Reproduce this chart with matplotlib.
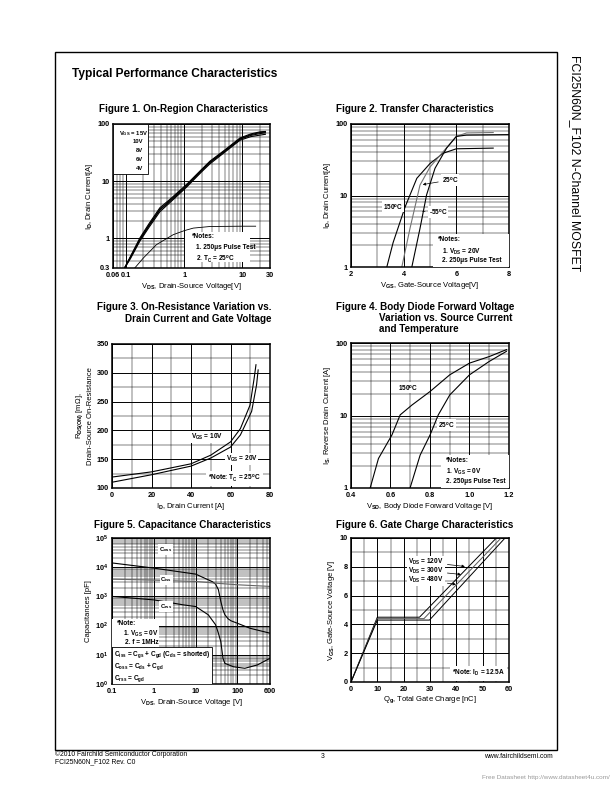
import matplotlib
matplotlib.use("Agg")
import matplotlib.pyplot as plt
from matplotlib.patches import Rectangle
from matplotlib.ticker import NullFormatter, MultipleLocator, LogLocator

plt.rcParams['font.family'] = ['Liberation Sans', 'DejaVu Sans']
plt.rcParams['font.weight'] = 'bold'
plt.rcParams['mathtext.fontset'] = 'custom'
plt.rcParams['mathtext.rm'] = 'Liberation Sans:bold'
plt.rcParams['mathtext.it'] = 'Liberation Sans:bold'
plt.rcParams['mathtext.bf'] = 'Liberation Sans:bold'

# ---- Figure 1: on-region characteristics ----
vds_on = [0.095, 0.12, 0.173, 0.25, 0.383, 0.6, 1.1, 2.0, 2.78, 5.0, 9.17, 14, 20.4, 25]
id_15v = [0.3, 0.48, 1.0, 1.8, 3.4, 5.0, 8.7, 16.0, 22.3, 35, 57, 67, 73, 74]
id_10v = [0.3, 0.47, 0.95, 1.7, 3.2, 4.8, 8.4, 15.5, 21.5, 34, 55, 65, 71, 72]
id_8v = [0.3, 0.46, 0.92, 1.65, 3.1, 4.6, 8.1, 15.0, 21.0, 33, 54, 63, 68, 70]
id_6v = [0.3, 0.44, 0.88, 1.55, 2.9, 4.4, 7.8, 14.5, 20.0, 32, 52, 60, 64, 66]
vds_4v = [0.142, 0.2, 0.335, 0.65, 1.0, 1.44, 2.78, 10, 17]
id_4v = [0.3, 0.45, 0.77, 1.15, 1.35, 1.5, 1.6, 1.62, 1.62]

# ---- Figure 2: transfer characteristics ----
vgs_150 = [3.36, 3.6, 4.06, 4.5, 5.0, 5.5, 6.0, 7.4]
id_150 = [1, 2.2, 7.0, 17.4, 28, 39, 45, 46]
vgs_25 = [3.93, 4.24, 4.62, 5.0, 5.5, 6.0, 6.39, 7.4]
id_25 = [1, 3.46, 14, 25, 41, 67, 75, 76]
vgs_m55 = [4.31, 4.62, 4.87, 5.19, 5.63, 6.0, 6.39, 8.0]
id_m55 = [1, 3.46, 10.2, 24, 46, 67, 70, 71]

# ---- Figure 3: on-resistance ----
id_r10 = [0, 20, 40, 50, 60, 65, 69.9, 72, 72.9]
rds_10v = [119, 128, 142, 157, 180, 203, 244, 291, 314]
id_r20 = [0, 20, 40, 50, 60, 65, 70.7, 73.2, 74]
rds_20v = [110, 123, 138, 152, 171, 192, 233, 279, 305]

# ---- Figure 4: body diode ----
vsd_150 = [0.497, 0.539, 0.607, 0.649, 0.708, 0.8, 0.9, 1.0, 1.1, 1.187]
is_150 = [1, 2.55, 5.37, 10.2, 13.9, 21.4, 36.4, 52.8, 65, 81]
vsd_25 = [0.699, 0.75, 0.8, 0.842, 0.9, 1.0, 1.1, 1.187]
is_25 = [1, 2.84, 5.37, 10.2, 19.2, 36.4, 55.7, 76.7]

# ---- Figure 5: capacitance ----
vds_coss = [0.1, 1, 10, 25, 30, 35, 40, 45, 50, 60, 70, 100, 200, 600]
c_oss = [14000, 9300, 5800, 3200, 2630, 1700, 670, 347, 235, 170, 146, 120, 81, 55]
vds_ciss = [0.1, 1, 10, 30, 100, 600]
c_iss = [3900, 3600, 3250, 2840, 2500, 2200]
vds_crss = [0.1, 1, 5, 10, 20, 30, 35, 40, 45, 50, 80, 150, 300, 600]
c_rss = [1000, 760, 515, 450, 235, 107, 55, 28, 7.6, 5.1, 3.9, 3.45, 4.5, 7.6]

# ---- Figure 6: gate charge ----
qg_120 = [0, 10, 26.0, 55.2]
vg_120 = [0, 4.5, 4.5, 10]
qg_300 = [0, 10, 27.7, 57.0]
vg_300 = [0, 4.4, 4.4, 10]
qg_480 = [0, 10, 29.8, 58.5]
vg_480 = [0, 4.3, 4.3, 10]

W, H = 612, 792
fig = plt.figure(figsize=(W / 100, H / 100), dpi=100)

TICK = 5.3
LAB = 5.5
NOTE = 4.7
TITLE = 7.1


def px_axes(l, r, t, b):
    return fig.add_axes([l / W, 1 - b / H, (r - l) / W, (b - t) / H])


def ftext(x, y, s, **kw):
    return fig.text(x / W, 1 - y / H, s, **kw)


def style(ax):
    for sp in ax.spines.values():
        sp.set_linewidth(1.1)
    ax.tick_params(which='both', length=0, labelsize=TICK)
    ax.tick_params(axis='x', pad=2.6)
    ax.tick_params(axis='y', pad=2.2)
    ax.grid(which='major', color='k', lw=0.7)
    ax.grid(which='minor', color='k', lw=0.35)
    ax.set_axisbelow(True)


def notes(ax, x0, lines, top, step, indent=0.03):
    for i, s in enumerate(lines):
        ax.text(x0 + (indent if i else 0), top - i * step, s, transform=ax.transAxes,
                fontsize=NOTE, va='top', zorder=6)


white = dict(facecolor='white', edgecolor='none', pad=0.6)

# Figure 1
ax1 = px_axes(113, 270, 124, 268)
ax1.set_xscale('log')
ax1.set_yscale('log')
ax1.set_xlim(0.06, 30)
ax1.set_ylim(0.3, 100)
ax1.set_xticks([0.06, 0.1, 1, 10, 30], ['0.06', '0.1', '1', '10', '30'])
ax1.set_yticks([0.3, 1, 10, 100], ['0.3', '1', '10', '100'])
ax1.xaxis.set_minor_locator(LogLocator(subs=range(2, 10)))
ax1.yaxis.set_minor_locator(LogLocator(subs=range(2, 10)))
ax1.xaxis.set_minor_formatter(NullFormatter())
ax1.yaxis.set_minor_formatter(NullFormatter())
style(ax1)
for ys in [id_15v, id_10v, id_8v, id_6v]:
    ax1.plot(vds_on, ys, color='k', lw=0.8)
ax1.plot(vds_4v, id_4v, color='k', lw=0.6)
ax1.add_patch(Rectangle((0, 0.65), 0.22, 0.35, transform=ax1.transAxes,
                        facecolor='white', edgecolor='k', lw=0.6, zorder=5))
ax1.text(0.04, 0.965, 'V$_{GS}$ = 15V', transform=ax1.transAxes, fontsize=4.2, va='top', zorder=6)
for i, s in enumerate(['10V', '8V', '6V', '4V']):
    ax1.text(0.19, 0.895 - i * 0.062, s, transform=ax1.transAxes, fontsize=4.2,
             va='top', ha='right', zorder=6)
ax1.add_patch(Rectangle((0.46, 0.04), 0.41, 0.21, transform=ax1.transAxes,
                        facecolor='white', edgecolor='none', zorder=5))
notes(ax1, 0.5, ['*Notes:', '1. 250μs Pulse Test', '2. T$_C$ = 25$^o$C'], 0.24, 0.07)
ax1.set_xlabel('V$_{DS}$, Drain-Source Voltage[V]', fontsize=LAB, labelpad=1.5)
ax1.set_ylabel('I$_D$, Drain Current[A]', fontsize=LAB, labelpad=2)

# Figure 2
ax2 = px_axes(351, 509, 124, 267)
ax2.set_yscale('log')
ax2.set_xlim(2, 8)
ax2.set_ylim(1, 100)
ax2.set_xticks([2, 4, 6, 8])
ax2.xaxis.set_minor_locator(MultipleLocator(1))
ax2.set_yticks([1, 10, 100], ['1', '10', '100'])
ax2.yaxis.set_minor_locator(LogLocator(subs=range(2, 10)))
ax2.yaxis.set_minor_formatter(NullFormatter())
style(ax2)
ax2.plot(vgs_150, id_150, color='k', lw=0.8)
ax2.plot(vgs_25, id_25, color='0.45', lw=0.8)
ax2.plot(vgs_m55, id_m55, color='k', lw=0.8)
ax2.annotate('25$^o$C', xy=(4.62, 14), xytext=(5.45, 16.5), fontsize=NOTE, va='center',
             bbox=white, arrowprops=dict(arrowstyle='-|>', lw=0.5, color='k', mutation_scale=4))
ax2.annotate('150$^o$C', xy=(4.05, 7.0), xytext=(3.2, 7.0), fontsize=NOTE, va='center',
             bbox=white, arrowprops=dict(arrowstyle='-', lw=0.5, color='k'))
ax2.annotate('-55$^o$C', xy=(4.72, 6.0), xytext=(4.95, 5.9), fontsize=NOTE, va='center',
             bbox=white, arrowprops=dict(arrowstyle='-', lw=0.5, color='k'))
ax2.add_patch(Rectangle((0.52, 0.0), 0.48, 0.23, transform=ax2.transAxes,
                        facecolor='white', edgecolor='none', zorder=5))
notes(ax2, 0.55, ['*Notes:', '1. V$_{DS}$ = 20V', '2. 250μs Pulse Test'], 0.215, 0.072, 0.025)
ax2.set_xlabel('V$_{GS}$, Gate-Source Voltage[V]', fontsize=LAB, labelpad=1.5)
ax2.set_ylabel('I$_D$, Drain Current[A]', fontsize=LAB, labelpad=2)

# Figure 3
ax3 = px_axes(112, 270, 344, 488)
ax3.set_xlim(0, 80)
ax3.set_ylim(100, 350)
ax3.set_xticks([0, 20, 40, 60, 80])
ax3.set_yticks([100, 150, 200, 250, 300, 350])
ax3.xaxis.set_minor_locator(MultipleLocator(10))
ax3.yaxis.set_minor_locator(MultipleLocator(25))
style(ax3)
ax3.plot(id_r10, rds_10v, color='k', lw=0.8)
ax3.plot(id_r20, rds_20v, color='k', lw=0.8)
ax3.text(48, 189, 'V$_{GS}$ = 10V', fontsize=NOTE, ha='center', va='center', bbox=white)
ax3.text(65.6, 150, 'V$_{GS}$ = 20V', fontsize=NOTE, ha='center', va='center', bbox=white)
ax3.text(48.5, 116, '*Note: T$_C$ = 25$^o$C', fontsize=NOTE, ha='left', va='center',
         bbox=dict(facecolor='white', edgecolor='none', pad=1.5))
ax3.set_xlabel('I$_D$, Drain Current [A]', fontsize=LAB, labelpad=1.5)
ax3.set_ylabel('R$_{DS(ON)}$ [mΩ],\nDrain-Source On-Resistance', fontsize=LAB, labelpad=2,
               linespacing=1.3)

# Figure 4
ax4 = px_axes(351, 509, 343, 488)
ax4.set_yscale('log')
ax4.set_xlim(0.4, 1.2)
ax4.set_ylim(1, 100)
ax4.set_xticks([0.4, 0.6, 0.8, 1.0, 1.2])
ax4.xaxis.set_minor_locator(MultipleLocator(0.1))
ax4.set_yticks([1, 10, 100], ['1', '10', '100'])
ax4.yaxis.set_minor_locator(LogLocator(subs=range(2, 10)))
ax4.yaxis.set_minor_formatter(NullFormatter())
style(ax4)
ax4.plot(vsd_150, is_150, color='k', lw=0.8)
ax4.plot(vsd_25, is_25, color='k', lw=0.8)
ax4.text(0.69, 24.3, '150$^o$C', fontsize=NOTE, ha='center', va='center', bbox=white)
ax4.text(0.884, 7.4, '25$^o$C', fontsize=NOTE, ha='center', va='center', bbox=white)
ax4.add_patch(Rectangle((0.57, 0.0), 0.43, 0.23, transform=ax4.transAxes,
                        facecolor='white', edgecolor='none', zorder=5))
notes(ax4, 0.6, ['*Notes:', '1. V$_{GS}$ = 0V', '2. 250μs Pulse Test'], 0.215, 0.072, 0.0)
ax4.set_xlabel('V$_{SD}$, Body Diode Forward Voltage [V]', fontsize=LAB, labelpad=1.5)
ax4.set_ylabel('I$_S$, Reverse Drain Current [A]', fontsize=LAB, labelpad=2)

# Figure 5
ax5 = px_axes(112, 270, 538, 684)
ax5.set_xscale('log')
ax5.set_yscale('log')
ax5.set_xlim(0.1, 600)
ax5.set_ylim(1, 1e5)
ax5.set_xticks([0.1, 1, 10, 100, 600], ['0.1', '1', '10', '100', '600'])
ax5.set_yticks([1, 10, 100, 1e3, 1e4, 1e5],
               ['10$^0$', '10$^1$', '10$^2$', '10$^3$', '10$^4$', '10$^5$'])
ax5.xaxis.set_minor_locator(LogLocator(subs=range(2, 10)))
ax5.yaxis.set_minor_locator(LogLocator(subs=range(2, 10)))
ax5.xaxis.set_minor_formatter(NullFormatter())
ax5.yaxis.set_minor_formatter(NullFormatter())
style(ax5)
ax5.tick_params(axis='y', pad=3)
ax5.tick_params(axis='x', pad=3)
ax5.plot(vds_coss, c_oss, color='k', lw=0.8)
ax5.plot(vds_ciss, c_iss, color='0.4', lw=0.8)
ax5.plot(vds_crss, c_rss, color='k', lw=0.8)
ax5.text(1.9, 4e4, 'C$_{oss}$', fontsize=4.2, ha='center', va='center', bbox=white)
ax5.text(2.0, 3700, 'C$_{iss}$', fontsize=4.2, ha='center', va='center', bbox=white)
ax5.text(2.0, 450, 'C$_{rss}$', fontsize=4.2, ha='center', va='center', bbox=white)
ax5.add_patch(Rectangle((0.0, 0.256), 0.3, 0.19, transform=ax5.transAxes,
                        facecolor='white', edgecolor='none', zorder=5))
ax5.text(0.03, 0.44, '*Note:', transform=ax5.transAxes, fontsize=NOTE, va='top', zorder=6)
ax5.text(0.07, 0.375, '1. V$_{GS}$ = 0V', transform=ax5.transAxes, fontsize=NOTE, va='top', zorder=6)
ax5.text(0.08, 0.31, '2. f = 1MHz', transform=ax5.transAxes, fontsize=NOTE, va='top', zorder=6)
ax5.add_patch(Rectangle((0.0, 0.0), 0.63, 0.256, transform=ax5.transAxes,
                        facecolor='white', edgecolor='k', lw=0.6, zorder=5))
ax5.text(0.015, 0.235, 'C$_{iss}$ = C$_{gs}$ + C$_{gd}$ (C$_{ds}$ = shorted)', transform=ax5.transAxes,
         fontsize=NOTE, va='top', zorder=6)
ax5.text(0.015, 0.155, 'C$_{oss}$ = C$_{ds}$ + C$_{gd}$', transform=ax5.transAxes,
         fontsize=NOTE, va='top', zorder=6)
ax5.text(0.015, 0.075, 'C$_{rss}$ = C$_{gd}$', transform=ax5.transAxes,
         fontsize=NOTE, va='top', zorder=6)
ax5.set_xlabel('V$_{DS}$, Drain-Source Voltage [V]', fontsize=LAB, labelpad=1.5)
ax5.set_ylabel('Capacitances [pF]', fontsize=LAB, labelpad=2)

# Figure 6
ax6 = px_axes(351, 509, 538, 682)
ax6.set_xlim(0, 60)
ax6.set_ylim(0, 10)
ax6.set_xticks([0, 10, 20, 30, 40, 50, 60])
ax6.set_yticks([0, 2, 4, 6, 8, 10])
ax6.xaxis.set_minor_locator(MultipleLocator(5))
ax6.yaxis.set_minor_locator(MultipleLocator(1))
style(ax6)
ax6.plot(qg_120, vg_120, color='k', lw=0.7)
ax6.plot(qg_300, vg_300, color='0.35', lw=0.7)
ax6.plot(qg_480, vg_480, color='k', lw=0.7)
arrow = dict(arrowstyle='-|>', lw=0.5, color='k', mutation_scale=4)
ax6.annotate('V$_{DS}$ = 120V', xy=(44.3, 8.0), xytext=(28.5, 8.33), fontsize=NOTE,
             ha='center', va='center', bbox=white, arrowprops=arrow)
ax6.annotate('V$_{DS}$ = 300V', xy=(42.8, 7.45), xytext=(28.5, 7.72), fontsize=NOTE,
             ha='center', va='center', bbox=white, arrowprops=arrow)
ax6.annotate('V$_{DS}$ = 480V', xy=(40.9, 6.75), xytext=(28.5, 7.07), fontsize=NOTE,
             ha='center', va='center', bbox=white, arrowprops=arrow)
ax6.text(58.5, 0.6, '*Note: I$_D$ = 12.5A', fontsize=NOTE, ha='right', va='center',
         bbox=dict(facecolor='white', edgecolor='none', pad=1.5))
ax6.set_xlabel('Q$_g$, Total Gate Charge [nC]', fontsize=LAB, labelpad=1.5)
ax6.set_ylabel('V$_{GS}$, Gate-Source Voltage [V]', fontsize=LAB, labelpad=2)

# page frame and titles
fig.add_artist(Rectangle((55 / W, 1 - 750 / H), 502 / W, 698 / H, transform=fig.transFigure,
                         fill=False, edgecolor='k', lw=1.0))
ftext(72, 74.5, 'Typical Performance Characteristics', fontsize=8.6, va='center')
ftext(99, 109, 'Figure 1. On-Region Characteristics', fontsize=TITLE, va='center')
ftext(336, 109, 'Figure 2. Transfer Characteristics', fontsize=TITLE, va='center')
ftext(97, 307.5, 'Figure 3. On-Resistance Variation vs.', fontsize=TITLE, va='center')
ftext(125, 318.5, 'Drain Current and Gate Voltage', fontsize=TITLE, va='center')
ftext(336, 306.5, 'Figure 4. Body Diode Forward Voltage', fontsize=TITLE, va='center')
ftext(379, 317.5, 'Variation vs. Source Current', fontsize=TITLE, va='center')
ftext(379, 328.5, 'and Temperature', fontsize=TITLE, va='center')
ftext(94, 525.5, 'Figure 5. Capacitance Characteristics', fontsize=TITLE, va='center')
ftext(336, 525.5, 'Figure 6. Gate Charge Characteristics', fontsize=TITLE, va='center')

ftext(575, 55, 'FCI25N60N_F102 N-Channel MOSFET', fontsize=8.8, rotation=-90,
      ha='center', va='top', fontweight='normal')

ftext(55, 754, '©2010 Fairchild Semiconductor Corporation', fontsize=4.9, va='center', fontweight='normal')
ftext(55, 762, 'FCI25N60N_F102 Rev. C0', fontsize=4.9, va='center', fontweight='normal')
ftext(323, 756, '3', fontsize=4.9, va='center', ha='center', fontweight='normal')
ftext(553, 756, 'www.fairchildsemi.com', fontsize=4.9, va='center', ha='right', fontweight='normal')
ftext(610, 778, 'Free Datasheet http://www.datasheet4u.com/', fontsize=4.6, va='center',
      ha='right', color='0.6', fontweight='normal')

fig.savefig('out.png', dpi=100)
